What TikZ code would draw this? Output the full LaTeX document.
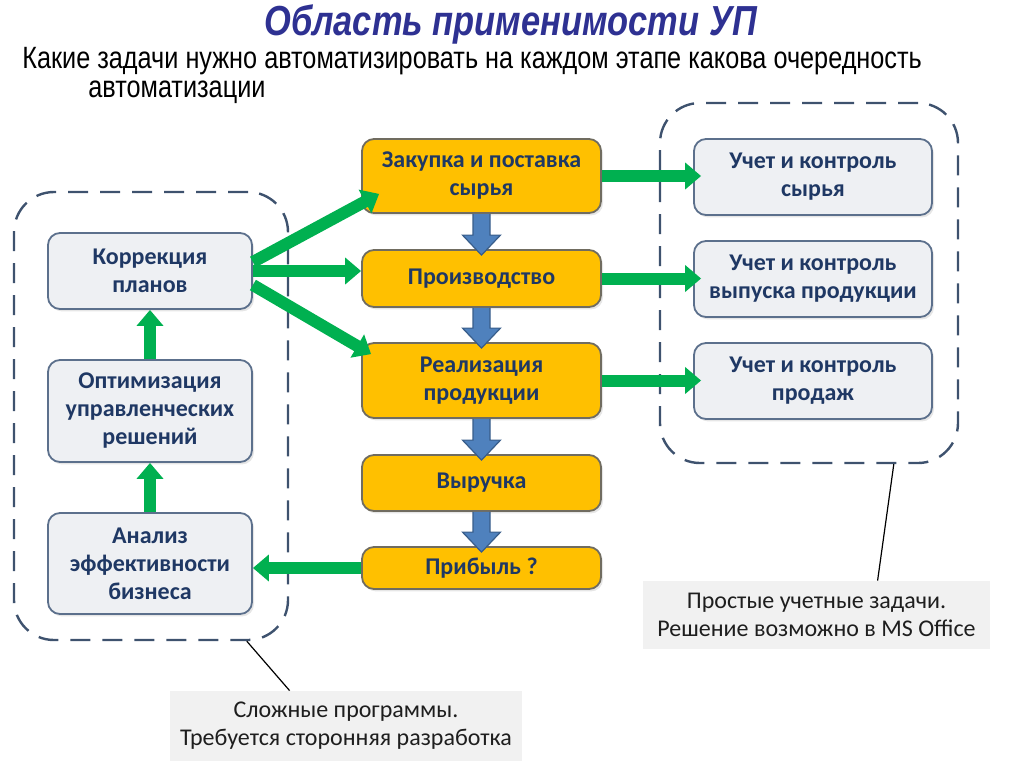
\documentclass[tikz,border=0pt]{standalone}
\usepackage{fontspec}
\setmainfont{Carlito}
\newfontfamily\narrowfont[FakeStretch=0.82]{Liberation Sans}
\usetikzlibrary{calc,arrows.meta,shadows}
\definecolor{titleblue}{RGB}{46,49,146}
\definecolor{boxtext}{RGB}{31,56,100}
\definecolor{boxfill}{RGB}{238,240,243}
\definecolor{boxedge}{RGB}{92,112,140}
\definecolor{orangefill}{RGB}{255,192,0}
\definecolor{orangeedge}{RGB}{112,108,96}
\definecolor{groupedge}{RGB}{62,82,110}
\definecolor{notefill}{RGB}{241,241,241}
\definecolor{notetext}{RGB}{30,30,30}
\definecolor{arrgreen}{RGB}{0,176,80}
\definecolor{arrblue}{RGB}{79,129,189}
\definecolor{arredge}{RGB}{56,93,138}
\tikzset{
  graybox/.style={draw=boxedge, fill=boxfill, rounded corners=6pt, line width=0.9pt, align=center, text=boxtext, font=\bfseries\fontsize{12}{14}\selectfont, inner sep=0pt, drop shadow={shadow xshift=1pt, shadow yshift=-1.2pt, opacity=0.2}},
  orangebox/.style={graybox, draw=orangeedge, fill=orangefill},
  group/.style={draw=groupedge, dash pattern=on 10pt off 6pt, line width=1.2pt, rounded corners=20pt},
  notebox/.style={fill=notefill, align=center, text=notetext, font=\fontsize{12}{14}\selectfont},
  garrow/.style={draw=arrgreen, line width=6pt, -{Triangle[width=13pt,length=8pt]}},
  barrow/.style={fill=arrblue},
  bedge/.style={draw=arredge, line width=0.6pt}
}
\newcommand{\flowarrow}[2]{%
  \fill[barrow] ($(#1.south)+(-8.5,0)$) -- ($(#2.north)+(-8.5,-14)$) -- ($(#2.north)+(-19,-14)$) -- ($(#2.north)+(0,6)$) -- ($(#2.north)+(19,-14)$) -- ($(#2.north)+(8.5,-14)$) -- ($(#1.south)+(8.5,0)$) -- cycle;
  \draw[bedge] ($(#1.south)+(-8.5,0)$) -- ($(#2.north)+(-8.5,-14)$) -- ($(#2.north)+(-19,-14)$) -- ($(#2.north)+(0,6)$) -- ($(#2.north)+(19,-14)$) -- ($(#2.north)+(8.5,-14)$) -- ($(#1.south)+(8.5,0)$);}
\begin{document}
\begin{tikzpicture}[x=0.5pt,y=-0.5pt]
\useasboundingbox (0,0) rectangle (1024,767);
\node[text=titleblue, font=\narrowfont\bfseries\itshape\fontsize{21}{24}\selectfont] (title) at (511,24) {Область применимости УП};
\node[anchor=north west, inner sep=0pt, align=left, font=\narrowfont\fontsize{15.4}{14.6}\selectfont] (sub) at (22,47) {Какие задачи нужно автоматизировать на каждом этапе какова очередность\\\hspace*{33pt}автоматизации};
\node[group, minimum width=137pt, minimum height=224pt] (lgroup) at (151,416) {};
\node[group, minimum width=149pt, minimum height=180pt] (rgroup) at (809,283) {};
\node[graybox, minimum width=102pt, minimum height=38pt] (korr) at (150,271) {Коррекция\\планов};
\node[graybox, minimum width=102pt, minimum height=51pt] (optim) at (150,411) {Оптимизация\\управленческих\\решений};
\node[graybox, minimum width=102pt, minimum height=50.5pt] (analiz) at (150,563.5) {Анализ\\эффективности\\бизнеса};
\node[orangebox, minimum width=119.5pt, minimum height=37pt] (zakup) at (481.5,176) {Закупка и поставка\\сырья};
\node[orangebox, minimum width=119.5pt, minimum height=28.5pt] (proizv) at (481.5,278.5) {Производство};
\node[orangebox, minimum width=119.5pt, minimum height=37.5pt] (realiz) at (481.5,380.5) {Реализация\\продукции};
\node[orangebox, minimum width=119.5pt, minimum height=28pt] (vyruch) at (481.5,483) {Выручка};
\node[orangebox, minimum width=119.5pt, minimum height=21pt] (pribyl) at (481.5,568) {Прибыль ?};
\node[graybox, minimum width=119pt, minimum height=38pt] (uchsyr) at (813,177) {Учет и контроль\\сырья};
\node[graybox, minimum width=119pt, minimum height=38pt] (uchvyp) at (813,279) {Учет и контроль\\выпуска продукции};
\node[graybox, minimum width=119pt, minimum height=38pt] (uchprod) at (813,381) {Учет и контроль\\продаж};
\node[notebox, minimum width=176pt, minimum height=35pt] (lnote) at (346,726) {Сложные программы.\\Требуется сторонняя разработка};
\node[notebox, minimum width=173.5pt, minimum height=34pt] (rnote) at (816.5,615) {Простые учетные задачи.\\Решение возможно в MS Office};
\draw[garrow] ($(korr.east)+(0,-9)$) -- ($(zakup.south west)+(18,-20)$);
\draw[garrow] (korr.east) -- (proizv.west |- korr.east);
\draw[garrow] ($(korr.east)+(0,14)$) -- ($(realiz.north west)+(10,12)$);
\draw[garrow] (optim.north) -- (korr.south);
\draw[garrow] (analiz.north) -- (optim.south);
\draw[garrow] (pribyl.west) -- (analiz.east |- pribyl.west);
\draw[garrow] (zakup.east) -- ($(uchsyr.west |- zakup.east)+(8,0)$);
\draw[garrow] (proizv.east) -- ($(uchvyp.west |- proizv.east)+(8,0)$);
\draw[garrow] (realiz.east) -- ($(uchprod.west |- realiz.east)+(8,0)$);
\flowarrow{zakup}{proizv}
\flowarrow{proizv}{realiz}
\flowarrow{realiz}{vyruch}
\flowarrow{vyruch}{pribyl}
\draw[line width=0.6pt] ($(lgroup.south west)+(234,0)$) -- ($(lnote.north west)+(120,0)$);
\draw[line width=0.6pt] ($(rgroup.south west)+(235,0)$) -- ($(rnote.north west)+(235,0)$);
\end{tikzpicture}
\end{document}
